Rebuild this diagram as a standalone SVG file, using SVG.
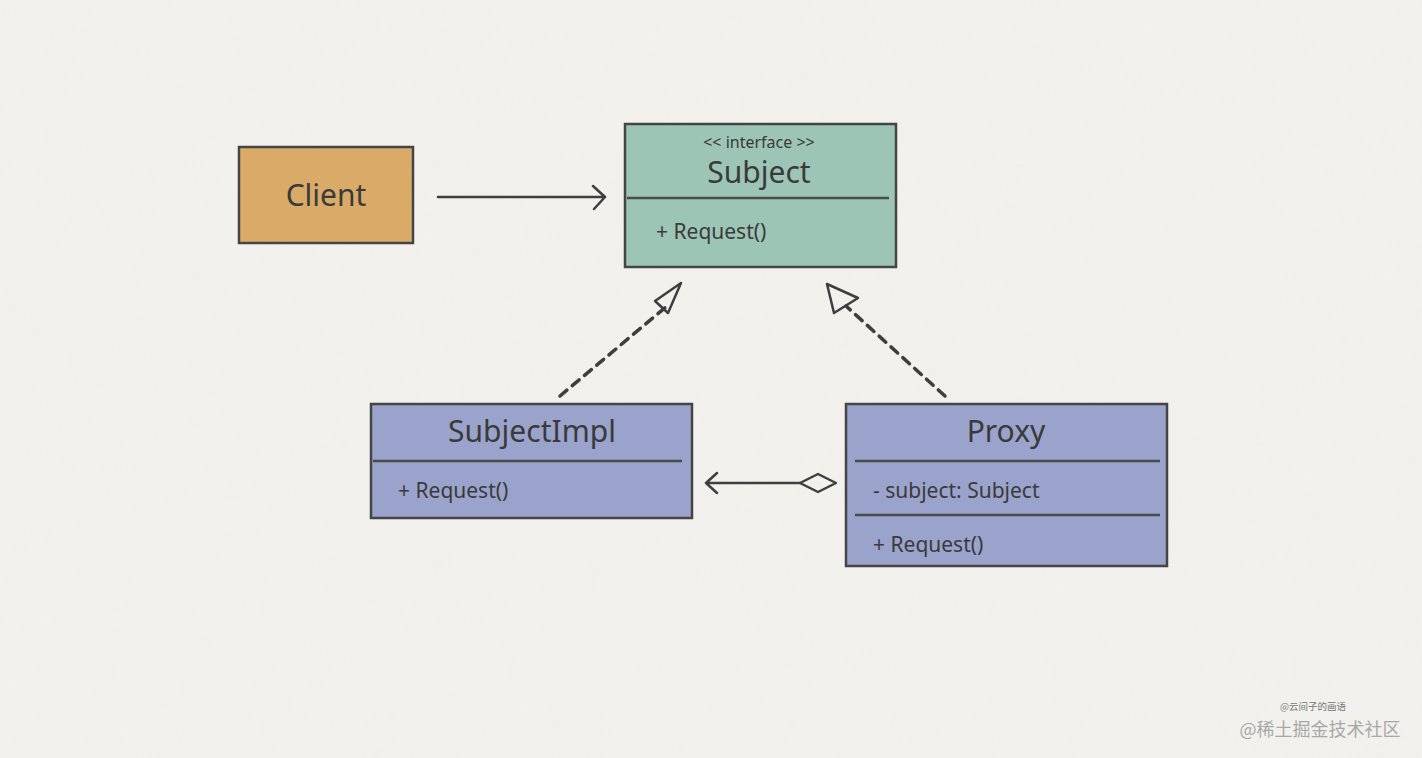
<svg xmlns="http://www.w3.org/2000/svg" width="1422" height="758" viewBox="0 0 1422 758">
<defs>
<style>
.box{stroke:#454545;stroke-width:2.5}
.div{stroke:#4a4a4a;stroke-width:2.5;fill:none}
.t{font-family:"Noto Sans","DejaVu Sans",sans-serif;fill:#3a3a3a}
.title{font-size:30px;text-anchor:middle}
.mem{font-size:21px}
.edge{stroke:#3e3e3e;stroke-width:2.5;fill:none;stroke-linecap:round;stroke-linejoin:round}
.dash{stroke-dasharray:9 7;stroke-width:3.5}
</style>
<filter id="paper" x="0" y="0" width="100%" height="100%">
<feTurbulence type="fractalNoise" baseFrequency="0.02" numOctaves="3" seed="3"/>
<feColorMatrix type="matrix" values="0 0 0 0 0.93 0 0 0 0 0.925 0 0 0 0 0.91 0 0 0 0.35 0"/>
</filter>
</defs>
<rect width="1422" height="758" fill="#f1f0ec"/>
<rect width="1422" height="758" filter="url(#paper)" opacity="0.5"/>

<g id="connectors">
<path class="edge" d="M438 197 L605 197 M593 186 L605 197 L594 209" stroke-width="3"/>
<path class="edge dash" d="M560 396 L667 306"/>
<path class="edge" d="M681 283 L655 301 L668 313 Z"/>
<path class="edge dash" d="M945 396 L846 306"/>
<path class="edge" d="M827 284 L858 298 L834 313 Z"/>
<path class="edge" d="M800 483 L706 483 M717 473 L706 483 L717 493" stroke-width="3"/>
<path class="edge" d="M800 483 L818 474 L836 483 L818 492 Z" fill="#f1f0ec"/>
</g>

<g id="client">
<rect class="box" x="239" y="147" width="174" height="96" fill="#d9aa68"/>
<text class="t title" x="326" y="206" font-size="29">Client</text>
</g>

<g id="subject">
<rect class="box" x="625" y="124" width="271" height="143" fill="#9cc5b5"/>
<text class="t" x="759" y="148" font-size="16" text-anchor="middle">&lt;&lt; interface &gt;&gt;</text>
<text class="t title" x="759" y="183" font-size="31">Subject</text>
<line class="div" x1="627" y1="198" x2="889" y2="198"/>
<text class="t mem" x="656" y="239">+ Request()</text>
</g>

<g id="subjectimpl">
<rect class="box" x="371" y="404" width="321" height="114" fill="#9aa3cb"/>
<text class="t title" x="532" y="442">SubjectImpl</text>
<line class="div" x1="373" y1="461" x2="682" y2="461"/>
<text class="t mem" x="398" y="498">+ Request()</text>
</g>

<g id="proxy">
<rect class="box" x="846" y="404" width="321" height="162" fill="#9aa3cb"/>
<text class="t title" x="1006" y="442">Proxy</text>
<line class="div" x1="855" y1="461" x2="1160" y2="461"/>
<text class="t mem" x="873" y="498">- subject: Subject</text>
<line class="div" x1="855" y1="515" x2="1160" y2="515"/>
<text class="t mem" x="873" y="552">+ Request()</text>
</g>

<g id="watermark">
<text x="1313" y="710" font-size="9.5" text-anchor="middle" fill="#777" font-family="'Noto Sans CJK SC',sans-serif">@云间子的画语</text>
<text x="1320" y="736" font-size="18" text-anchor="middle" fill="#a8a8a8" font-family="'Noto Sans CJK SC',sans-serif">@稀土掘金技术社区</text>
</g>
</svg>
